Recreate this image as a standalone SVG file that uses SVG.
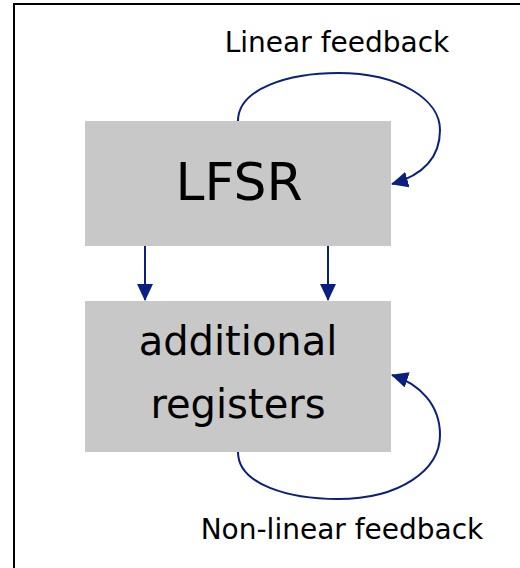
<svg xmlns="http://www.w3.org/2000/svg" width="520" height="568" viewBox="0 0 520 568">
<style>
.box{fill:#c8c8c8}
.t{font-family:"DejaVu Sans",Verdana,sans-serif;fill:#000;text-anchor:middle}
.c{fill:none;stroke:#0a1f7f;stroke-width:2}
</style>
<defs>
<marker id="ah" markerWidth="17" markerHeight="16" viewBox="0 0 17 16" refX="16" refY="8" orient="auto" markerUnits="userSpaceOnUse">
<path d="M0,0 L17,8 L0,16 Z" fill="#0a1f7f"/>
</marker>
</defs>
<rect x="14" y="4" width="520" height="580" fill="#fff" stroke="#000" stroke-width="2"/>
<g id="lfsr">
<rect class="box" x="85" y="121" width="306" height="125"/>
<text class="t" x="239" y="200" font-size="52">LFSR</text>
</g>
<g id="additional">
<rect class="box" x="85" y="301" width="306" height="151"/>
<text class="t" x="238" y="355" font-size="40">additional</text>
<text class="t" x="238" y="418" font-size="40">registers</text>
</g>
<g id="labels">
<text class="t" x="337" y="52" font-size="28">Linear feedback</text>
<text class="t" x="342" y="539" font-size="28">Non-linear feedback</text>
</g>
<g id="connectors">
<path class="c" d="M145,246 L145,300" marker-end="url(#ah)"/>
<path class="c" d="M328,246 L328,300" marker-end="url(#ah)"/>
<path class="c" d="M238,121 C238,88 290,73 338,73 C400,73 440,100 440,130 C440,160 420,176 392,184" marker-end="url(#ah)"/>
<path class="c" d="M238,452 C238,485 290,499 338,499 C400,499 440,470 440,435 C440,405 420,384 392,375" marker-end="url(#ah)"/>
</g>
</svg>
